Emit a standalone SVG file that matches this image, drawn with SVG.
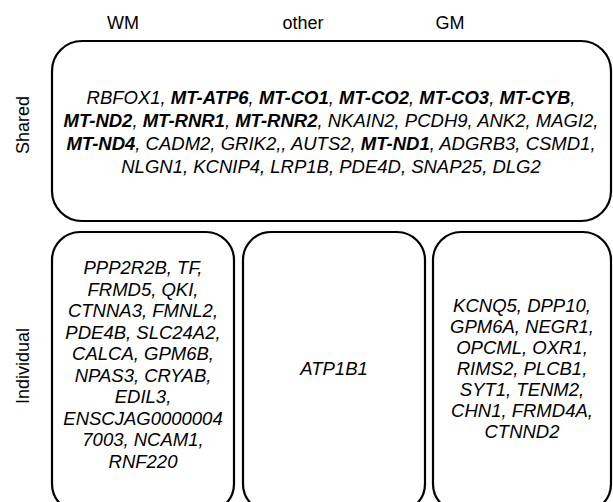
<svg xmlns="http://www.w3.org/2000/svg" width="613" height="502" viewBox="0 0 613 502">
<style>
.box{fill:#fff;stroke:#000;stroke-width:2.2}
.hd{font-family:"Liberation Sans",Arial,sans-serif;font-size:18px;fill:#000;text-anchor:middle}
.g{font-family:"Liberation Sans",Arial,sans-serif;font-size:18.5px;font-style:italic;fill:#000;text-anchor:middle}
.b{font-weight:bold}
</style>
<rect width="613" height="502" fill="#fff"/>
<g id="headers">
<text class="hd" x="123" y="29">WM</text>
<text class="hd" x="303" y="29">other</text>
<text class="hd" x="450" y="29">GM</text>
<text class="hd" transform="translate(29,125) rotate(-90)">Shared</text>
<text class="hd" transform="translate(29,366) rotate(-90)">Individual</text>
</g>
<g id="shared">
<rect class="box" x="52" y="41" width="559" height="180" rx="30"/>
<text class="g" x="331" y="104">RBFOX1, <tspan class="b">MT-ATP6</tspan>, <tspan class="b">MT-CO1</tspan>, <tspan class="b">MT-CO2</tspan>, <tspan class="b">MT-CO3</tspan>, <tspan class="b">MT-CYB</tspan>,</text>
<text class="g" x="331" y="127"><tspan class="b">MT-ND2</tspan>, <tspan class="b">MT-RNR1</tspan>, <tspan class="b">MT-RNR2</tspan>, NKAIN2, PCDH9, ANK2, MAGI2,</text>
<text class="g" x="331" y="150"><tspan class="b">MT-ND4</tspan>, CADM2, GRIK2,, AUTS2, <tspan class="b">MT-ND1</tspan>, ADGRB3, CSMD1,</text>
<text class="g" x="331" y="173">NLGN1, KCNIP4, LRP1B, PDE4D, SNAP25, DLG2</text>
</g>
<g id="wm">
<rect class="box" x="52" y="232" width="182" height="280" rx="28"/>
<text class="g" x="143" y="274">PPP2R2B, TF,</text>
<text class="g" x="143" y="295.5">FRMD5, QKI,</text>
<text class="g" x="143" y="317">CTNNA3, FMNL2,</text>
<text class="g" x="143" y="338.5">PDE4B, SLC24A2,</text>
<text class="g" x="143" y="360">CALCA, GPM6B,</text>
<text class="g" x="143" y="381.5">NPAS3, CRYAB,</text>
<text class="g" x="143" y="403">EDIL3,</text>
<text class="g" x="143" y="424.5">ENSCJAG0000004</text>
<text class="g" x="143" y="446">7003, NCAM1,</text>
<text class="g" x="143" y="467.5">RNF220</text>
</g>
<g id="other">
<rect class="box" x="243" y="232" width="182" height="280" rx="28"/>
<text class="g" x="334" y="375">ATP1B1</text>
</g>
<g id="gm">
<rect class="box" x="433" y="232" width="178" height="280" rx="28"/>
<text class="g" x="522" y="311.5">KCNQ5, DPP10,</text>
<text class="g" x="522" y="332.5">GPM6A, NEGR1,</text>
<text class="g" x="522" y="353.5">OPCML, OXR1,</text>
<text class="g" x="522" y="374.5">RIMS2, PLCB1,</text>
<text class="g" x="522" y="395.5">SYT1, TENM2,</text>
<text class="g" x="522" y="416.5">CHN1, FRMD4A,</text>
<text class="g" x="522" y="437.5">CTNND2</text>
</g>
<g id="connectors"/>
</svg>
